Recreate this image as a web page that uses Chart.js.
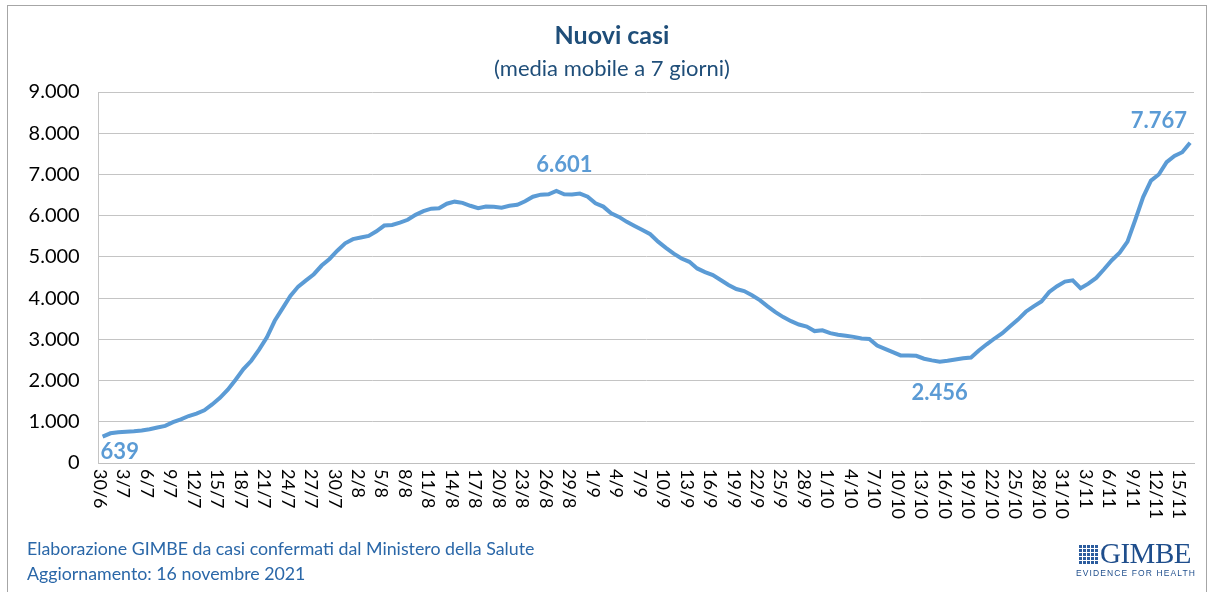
<!DOCTYPE html>
<html lang="it">
<head>
<meta charset="utf-8">
<title>Nuovi casi</title>
<script src="https://cdn.jsdelivr.net/npm/chart.js@4.4.1/dist/chart.umd.min.js"></script>
<style>
  body { margin: 0; background: #fff; font-family: Lato, "Open Sans", sans-serif; }
  #wrap { position: relative; width: 1214px; height: 592px; overflow: hidden; background: #fff; }
  #frame { position: absolute; left: 7px; top: 5px; width: 1198px; height: 620px; border: 1px solid #a6a6a6; }
  #chart { position: absolute; left: 0; top: 0; }
  .title { position: absolute; left: 0; width: 1224px; text-align: center; color: #1f4e79; white-space: nowrap; }
  #t1 { top: 19px; font-size: 25px; font-weight: bold; }
  #t2 { top: 54px; font-size: 22px; }
  .foot { position: absolute; left: 27px; color: #2a67a8; font-size: 17.8px; white-space: nowrap; }
  #f1 { top: 537px; }
  #f2 { top: 562px; }
  #logo { position: absolute; left: 1076px; top: 539px; width: 120px; color: #1f4e8c; white-space: nowrap; }
  #logo .name { font-family: "Liberation Serif", "DejaVu Serif", serif; font-size: 29px; letter-spacing: -0.5px; line-height: 28px; padding-left: 24px; }
  #logo .grid { position: absolute; left: 2px; top: 5px; width: 20px; height: 20px;
    background-image: linear-gradient(90deg, #fff 1px, transparent 1px), linear-gradient(#fff 1px, transparent 1px);
    background-size: 4px 4px; background-color: #2b5c9e; }
  #logo .tag { font-size: 8.5px; letter-spacing: 1.1px; margin-top: 1px; font-family: "Liberation Sans", sans-serif; }
</style>
</head>
<body>
<div id="wrap">
  <div id="frame"></div>
  <canvas id="chart" width="1214" height="592"></canvas>
  <div class="title" id="t1">Nuovi casi</div>
  <div class="title" id="t2">(media mobile a 7 giorni)</div>
  <div class="foot" id="f1">Elaborazione GIMBE da casi confermati dal Ministero della Salute</div>
  <div class="foot" id="f2">Aggiornamento: 16 novembre 2021</div>
  <div id="logo"><div class="grid"></div><div class="name">GIMBE</div><div class="tag">EVIDENCE FOR HEALTH</div></div>
</div>
<script>
// giorni dal 30/6 al 16/11
const giorni = [
  '30/6',
  '1/7','2/7','3/7','4/7','5/7','6/7','7/7','8/7','9/7','10/7','11/7','12/7','13/7','14/7','15/7','16/7',
  '17/7','18/7','19/7','20/7','21/7','22/7','23/7','24/7','25/7','26/7','27/7','28/7','29/7','30/7','31/7',
  '1/8','2/8','3/8','4/8','5/8','6/8','7/8','8/8','9/8','10/8','11/8','12/8','13/8','14/8','15/8','16/8',
  '17/8','18/8','19/8','20/8','21/8','22/8','23/8','24/8','25/8','26/8','27/8','28/8','29/8','30/8','31/8',
  '1/9','2/9','3/9','4/9','5/9','6/9','7/9','8/9','9/9','10/9','11/9','12/9','13/9','14/9','15/9',
  '16/9','17/9','18/9','19/9','20/9','21/9','22/9','23/9','24/9','25/9','26/9','27/9','28/9','29/9','30/9',
  '1/10','2/10','3/10','4/10','5/10','6/10','7/10','8/10','9/10','10/10','11/10','12/10','13/10','14/10','15/10','16/10',
  '17/10','18/10','19/10','20/10','21/10','22/10','23/10','24/10','25/10','26/10','27/10','28/10','29/10','30/10','31/10',
  '1/11','2/11','3/11','4/11','5/11','6/11','7/11','8/11','9/11','10/11','11/11','12/11','13/11','14/11','15/11','16/11'
];

// media mobile a 7 giorni
const nuoviCasi = [
  639,
  720, 745, 760, 770, 790, 820, 860, 900, 990, 1060, 1140, 1200, 1280, 1420, 1580,
  1780, 2020, 2280, 2480, 2750, 3050, 3450, 3750, 4050, 4280, 4430, 4580, 4790, 4950, 5150,
  5330, 5430, 5470, 5510, 5620, 5760, 5775, 5830, 5900, 6020, 6110, 6170, 6180, 6290, 6340,
  6310, 6240, 6180, 6220, 6215, 6195, 6240, 6265, 6350, 6460, 6510, 6520, 6601, 6520, 6515,
  6535, 6460, 6300, 6220, 6060, 5970, 5850, 5750, 5650, 5550, 5370, 5220, 5080, 4960, 4880,
  4720, 4630, 4560, 4440, 4320, 4220, 4170, 4070, 3950, 3800, 3660, 3540, 3440, 3360, 3310,
  3200, 3220, 3150, 3110, 3085, 3060, 3020, 3010, 2850, 2770, 2690, 2610, 2605, 2600, 2530,
  2490, 2456, 2480, 2510, 2540, 2560, 2730, 2880, 3020, 3150, 3320, 3480, 3670, 3800, 3920,
  4150, 4290, 4400, 4430, 4240, 4350, 4490, 4700, 4920, 5100, 5370, 5900, 6450, 6850, 7000,
  7300, 7450, 7540, 7767
];

const yTicks = [0, 1000, 2000, 3000, 4000, 5000, 6000, 7000, 8000, 9000];
const evidenziati = [0, 58, 107, 139];  // 639, picco, minimo, ultimo
const passoEtichette = 3;

function formatIt(v) {
  return String(v).replace(/\B(?=(\d{3})+(?!\d))/g, '.');
}

// etichette delle date ruotate in senso orario (come in Excel)
const dateLabels = {
  id: 'dateLabels',
  afterDraw(chart) {
    const ctx = chart.ctx;
    const xs = chart.scales.x;
    ctx.save();
    ctx.fillStyle = '#000';
    ctx.font = '18px Lato, sans-serif';
    ctx.textAlign = 'left';
    ctx.textBaseline = 'middle';
    giorni.forEach((g, i) => {
      if (i % passoEtichette !== 0) return;
      const x = xs.getPixelForValue(i) - 3;
      ctx.save();
      ctx.translate(x, chart.chartArea.bottom + 6);
      ctx.rotate(Math.PI / 2);
      ctx.fillText(g, 0, 0);
      ctx.restore();
    });
    ctx.restore();
  }
};

// valori evidenziati sul grafico
const valueLabels = {
  id: 'valueLabels',
  afterDatasetsDraw(chart) {
    const ctx = chart.ctx;
    const meta = chart.getDatasetMeta(0);
    const pos = {
      0:   { dx: -2, dy: 15, align: 'left' },
      58:  { dx: 8,  dy: -26, align: 'center' },
      107: { dx: 0,  dy: 31, align: 'center' },
      139: { dx: -3, dy: -22, align: 'right' }
    };
    ctx.save();
    ctx.fillStyle = '#5b9bd5';
    ctx.font = 'bold 22px Lato, sans-serif';
    ctx.textBaseline = 'middle';
    evidenziati.forEach(i => {
      const p = meta.data[i];
      const o = pos[i];
      ctx.textAlign = o.align;
      ctx.fillText(formatIt(nuoviCasi[i]), p.x + o.dx, p.y + o.dy);
    });
    ctx.restore();
  }
};

new Chart(document.getElementById('chart').getContext('2d'), {
  type: 'line',
  data: {
    labels: giorni,
    datasets: [{
      label: 'Nuovi casi',
      data: nuoviCasi,
      borderColor: '#5b9bd5',
      borderWidth: 4,
      pointRadius: 0,
      tension: 0,
      fill: false
    }]
  },
  options: {
    responsive: false,
    animation: false,
    devicePixelRatio: 1,
    layout: { padding: { left: 20, right: 20, top: 92, bottom: 0 } },
    plugins: {
      legend: { display: false },
      tooltip: { enabled: false }
    },
    scales: {
      x: {
        type: 'category',
        offset: true,
        grid: { display: false, drawTicks: false },
        border: { display: true, color: '#bfbfbf', width: 1 },
        ticks: { display: false },
        afterFit(scale) { scale.height = 129; }
      },
      y: {
        min: 0,
        max: 9000,
        afterBuildTicks(scale) { scale.ticks = yTicks.map(v => ({ value: v })); },
        grid: { color: '#c4c4c4', lineWidth: 1, drawTicks: false },
        border: { display: true, color: '#c4c4c4', width: 1 },
        ticks: {
          color: '#000',
          padding: 19,
          font: { family: 'Lato, sans-serif', size: 20 },
          callback: v => formatIt(v)
        },
        afterFit(scale) { scale.width = 78.7; }
      }
    }
  },
  plugins: [dateLabels, valueLabels]
});
</script>
</body>
</html>
